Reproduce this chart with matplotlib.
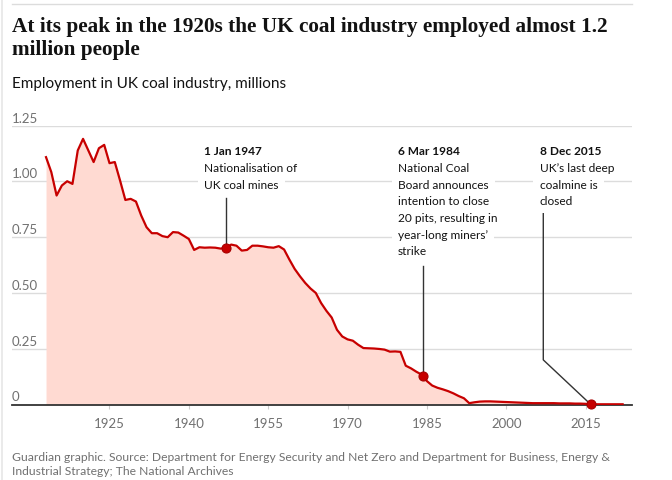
import matplotlib
matplotlib.use('Agg')
import matplotlib.pyplot as plt
import matplotlib.transforms as mtransforms
from matplotlib.lines import Line2D
import numpy as np

# Employment in UK coal industry, millions
years = list(range(1913, 2023))
employment = [
    1.109, 1.042, 0.937, 0.982, 1.001, 0.989, 1.139,                       # 1913-1919
    1.191, 1.139, 1.087, 1.149, 1.164, 1.082, 1.087, 1.004, 0.917, 0.922,  # 1920s
    0.910, 0.847, 0.795, 0.768, 0.768, 0.755, 0.750, 0.773, 0.771, 0.757,  # 1930s
    0.742, 0.693, 0.705, 0.703, 0.704, 0.703, 0.699, 0.702, 0.717, 0.712,  # 1940s
    0.690, 0.693, 0.712, 0.712, 0.709, 0.705, 0.703, 0.710, 0.695, 0.650,  # 1950s
    0.608, 0.575, 0.545, 0.520, 0.500, 0.455, 0.420, 0.390, 0.335, 0.305,  # 1960s
    0.292, 0.286, 0.268, 0.253, 0.252, 0.251, 0.249, 0.246, 0.237, 0.238,  # 1970s
    0.236, 0.174, 0.162, 0.147, 0.134, 0.105, 0.085, 0.075, 0.068, 0.060,  # 1980s
    0.050, 0.038, 0.028, 0.006, 0.010, 0.013, 0.014, 0.014, 0.013, 0.012,  # 1990s
    0.011, 0.010, 0.009, 0.008, 0.007, 0.006, 0.006, 0.006, 0.006, 0.006,  # 2000s
    0.005, 0.005, 0.005, 0.004, 0.004, 0.003, 0.001, 0.001, 0.001, 0.001,  # 2010s
    0.001, 0.001, 0.001,                                                   # 2020-2022
]

x_ticks = [1925, 1940, 1955, 1970, 1985, 2000, 2015]
y_ticks = [0, 0.25, 0.5, 0.75, 1.0, 1.25]
y_labels = ['0', '0.25', '0.50', '0.75', '1.00', '1.25']

event_dates = [1947.0, 1984.18, 2015.93]
event_titles = ['1 Jan 1947', '6 Mar 1984', '8 Dec 2015']
event_texts = [
    ['Nationalisation of', 'UK coal mines'],
    ['National Coal', 'Board announces', 'intention to close',
     '20 pits, resulting in', 'year-long miners\u2019', 'strike'],
    ['UK\u2019s last deep', 'coalmine is', 'closed'],
]

title_lines = ['At its peak in the 1920s the UK coal industry employed almost 1.2',
               'million people']
subtitle = 'Employment in UK coal industry, millions'
source_lines = ['Guardian graphic. Source: Department for Energy Security and Net Zero '
                'and Department for Business, Energy &',
                'Industrial Strategy; The National Archives']

# layout (pixels of a 672x481 canvas, 100 dpi)
W, H, DPI = 672, 481, 100
LINE_RED = '#c70000'
FILL_PINK = '#ffdad2'
GRID = '#dcdcdc'
GREY_TEXT = '#707070'
DARK = '#121212'
SANS = ['Lato', 'DejaVu Sans']
SERIF = ['Liberation Serif', 'DejaVu Serif']

plt.rcParams['font.family'] = SANS

label_x = [1942.9, 1979.5, 2006.3]          # left edge of each note, in years
label_top = 1.121                           # baseline of the date line
leader_top = [0.926, 0.623, 0.865]
leader_elbow = (2007.0, 0.2)                # only the 2015 note bends
line_step_pt = 12.0


def fig_xy(x, y):
    return x / W, 1 - y / H


fig = plt.figure(figsize=(W / DPI, H / DPI), dpi=DPI)
ax = fig.add_axes([12 / W, 1 - 405.5 / H, 620 / W, (405.5 - 126.7) / H])

ax.fill_between(years, employment, 0, color=FILL_PINK, lw=0, zorder=1.5)
ax.plot(years, employment, color=LINE_RED, lw=1.6, zorder=3, solid_joinstyle='round')
ax.set_xlim(1906.57, 2023.77)
ax.set_ylim(0, 1.25)

ax.set_yticks(y_ticks)
ax.tick_params(axis='y', length=0, labelleft=False)
ax.yaxis.grid(True, color=GRID, lw=1)
ax.set_axisbelow(True)
for side in ('left', 'right', 'top'):
    ax.spines[side].set_visible(False)
ax.spines['bottom'].set_color('#333333')
ax.spines['bottom'].set_linewidth(1.3)
ax.spines['bottom'].set_zorder(2.5)

ax.set_xticks(x_ticks)
ax.set_xticklabels([str(t) for t in x_ticks])
ax.tick_params(axis='x', length=3, color='#cccccc', pad=6, labelsize=9.5,
               labelcolor=GREY_TEXT)

ytrans = mtransforms.blended_transform_factory(ax.transAxes, ax.transData)
for v, lab in zip(y_ticks, y_labels):
    ax.annotate(lab, (0, v), xycoords=ytrans, xytext=(0, 3), textcoords='offset points',
                ha='left', va='baseline', color=GREY_TEXT, fontsize=9.5)

# event markers and leader lines
dot_y = np.interp(event_dates, years, employment)
for i, (d, dy) in enumerate(zip(event_dates, dot_y)):
    if i == 2:
        xs = [leader_elbow[0], leader_elbow[0], d]
        ys = [leader_top[i], leader_elbow[1], dy]
    else:
        xs, ys = [d, d], [leader_top[i], dy]
    ax.plot(xs, ys, color='#333333', lw=1, zorder=2.8)
ax.plot(event_dates, dot_y, 'o', ms=6.5, color=LINE_RED, mec='#a80000', mew=0.8,
        zorder=4, clip_on=False)

# note texts: a white box per line first, then the text on top
for i in range(len(event_dates)):
    lines = [(event_titles[i], 'bold')] + [(t, 'normal') for t in event_texts[i]]
    for k, (txt, weight) in enumerate(lines):
        for layer in (0, 1):
            kw = dict(xy=(label_x[i], label_top), xycoords='data',
                      xytext=(0, -k * line_step_pt), textcoords='offset points',
                      ha='left', va='baseline', fontsize=8.6, fontweight=weight)
            if layer == 0:
                ax.annotate(txt, color='white', zorder=5,
                            bbox=dict(fc='white', ec='none', pad=4.5), **kw)
            else:
                ax.annotate(txt, color=DARK, zorder=6, **kw)

# header, frame and footer
fig.add_artist(Line2D([12 / W, 632 / W], [1 - 5 / H] * 2, color=GRID, lw=1))
fig.add_artist(Line2D([1.5 / W] * 2, [0, 1], color='#e6e6e6', lw=1.2))

fig.text(*fig_xy(12, 31.7), title_lines[0], family=SERIF, weight='bold', fontsize=15.3,
         color=DARK, va='baseline')
fig.text(*fig_xy(12, 55), title_lines[1], family=SERIF, weight='bold', fontsize=15.3,
         color=DARK, va='baseline')
fig.text(*fig_xy(12, 88.3), subtitle, fontsize=11, color=DARK, va='baseline')
fig.text(*fig_xy(12, 461), source_lines[0], fontsize=8.75, color=GREY_TEXT, va='baseline')
fig.text(*fig_xy(12, 475), source_lines[1], fontsize=8.75, color=GREY_TEXT, va='baseline')

fig.savefig('out.png', dpi=DPI)
